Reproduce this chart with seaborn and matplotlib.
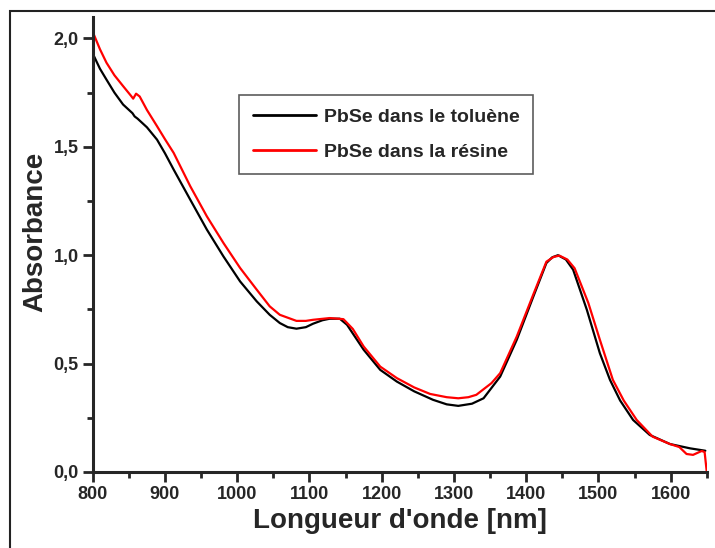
import matplotlib
matplotlib.use("Agg")
import matplotlib.pyplot as plt
from matplotlib.ticker import MultipleLocator, FuncFormatter
from matplotlib.patches import Rectangle
import pandas as pd
import seaborn as sns

# Absorption spectra of PbSe quantum dots
toluene_nm = [800, 810, 819, 830, 842, 855, 858, 862, 875, 889, 900, 912, 935,
              958, 981, 1004, 1027, 1045, 1059, 1070, 1082, 1095, 1105, 1118,
              1128, 1142, 1152, 1175, 1198, 1221, 1245, 1271, 1290, 1306, 1325,
              1341, 1364, 1387, 1410, 1428, 1436, 1444, 1455, 1465, 1484, 1502,
              1516, 1530, 1548, 1571, 1599, 1627, 1648]
toluene_abs = [1.93, 1.86, 1.81, 1.75, 1.695, 1.655, 1.640, 1.630, 1.59, 1.533,
               1.47, 1.395, 1.256, 1.118, 0.994, 0.879, 0.787, 0.725, 0.687,
               0.668, 0.661, 0.668, 0.684, 0.700, 0.707, 0.707, 0.679, 0.564,
               0.471, 0.417, 0.372, 0.333, 0.312, 0.305, 0.315, 0.340, 0.44,
               0.61, 0.81, 0.964, 0.99, 1.0, 0.98, 0.933, 0.748, 0.548, 0.425,
               0.33, 0.24, 0.171, 0.129, 0.109, 0.098]

resine_nm = [800, 810, 819, 830, 842, 853, 856, 860, 865, 875, 889, 900, 912,
             935, 958, 981, 1004, 1027, 1045, 1059, 1082, 1095, 1105, 1128,
             1147, 1160, 1175, 1198, 1221, 1245, 1267, 1290, 1306, 1320, 1331,
             1352, 1364, 1387, 1410, 1428, 1438, 1446, 1457, 1467, 1486, 1502,
             1520, 1535, 1553, 1575, 1599, 1612, 1622, 1631, 1643, 1647, 1650]
resine_abs = [2.03, 1.95, 1.888, 1.83, 1.78, 1.735, 1.722, 1.745, 1.732, 1.67,
              1.595, 1.535, 1.472, 1.318, 1.179, 1.056, 0.941, 0.841, 0.764,
              0.725, 0.697, 0.697, 0.702, 0.710, 0.705, 0.66, 0.579, 0.486,
              0.433, 0.39, 0.360, 0.345, 0.340, 0.345, 0.356, 0.41, 0.456,
              0.625, 0.82, 0.97, 0.992, 0.998, 0.98, 0.94, 0.78, 0.61, 0.425,
              0.33, 0.24, 0.163, 0.129, 0.115, 0.083, 0.079, 0.097, 0.092, 0.0]

labels = ["PbSe dans le toluène", "PbSe dans la résine"]
colors = ["#000000", "#ff0000"]

x_ticks = [800, 900, 1000, 1100, 1200, 1300, 1400, 1500, 1600]
y_ticks = [0.0, 0.5, 1.0, 1.5, 2.0]

sns.set_style("ticks")
plt.rcParams["font.family"] = ["Liberation Sans", "DejaVu Sans"]
plt.rcParams["font.weight"] = "bold"

df = pd.concat([
    pd.DataFrame({"nm": toluene_nm, "abs": toluene_abs, "serie": labels[0]}),
    pd.DataFrame({"nm": resine_nm, "abs": resine_abs, "serie": labels[1]}),
], ignore_index=True)

fig = plt.figure(figsize=(7.15, 5.48), dpi=100)
ax = fig.add_axes([0.1297, 0.1387, 0.8588, 0.8308])

sns.lineplot(data=df, x="nm", y="abs", hue="serie", hue_order=labels,
             palette=colors, sort=False, estimator=None, linewidth=1.6, ax=ax)

ax.set_xlim(800, 1650)
ax.set_ylim(0, 2.1)
ax.set_xticks(x_ticks)
ax.set_yticks(y_ticks)
ax.xaxis.set_minor_locator(MultipleLocator(50))
ax.yaxis.set_minor_locator(MultipleLocator(0.25))
ax.yaxis.set_major_formatter(FuncFormatter(lambda v, p: f"{v:.1f}".replace(".", ",")))

for side in ("top", "right"):
    ax.spines[side].set_visible(False)
for side in ("left", "bottom"):
    ax.spines[side].set_linewidth(2.2)
ax.tick_params(which="major", direction="out", length=7, width=2.0,
               labelsize=13, pad=3)
ax.tick_params(which="minor", direction="out", length=4, width=2.0)
for lab in ax.get_xticklabels() + ax.get_yticklabels():
    lab.set_fontweight("bold")

ax.set_xlabel("Longueur d'onde [nm]", fontsize=20, fontweight="bold")
ax.set_ylabel("Absorbance", fontsize=20, fontweight="bold")
ax.xaxis.set_label_coords(0.5, -0.108)
ax.yaxis.set_label_coords(-0.094, 0.527)
ax.xaxis.label.set_va("center")
ax.yaxis.label.set_va("center")

leg = ax.legend(loc="upper left", bbox_to_anchor=(239 / 715, 1 - 95 / 548),
                bbox_transform=fig.transFigure, fontsize=14, frameon=True,
                fancybox=False, shadow=False, handlelength=3.25,
                handletextpad=0.4, labelspacing=0.87, borderpad=0.7,
                borderaxespad=0)
leg.get_frame().set_edgecolor("#333333")
leg.get_frame().set_linewidth(1.2)
for t in leg.get_texts():
    t.set_fontweight("bold")
for line in leg.get_lines():
    line.set_linewidth(2.0)

# page frame around the graph
fig.add_artist(Rectangle((10 / 715, -0.1), 1.2, 1.1 - 11 / 548,
                         transform=fig.transFigure, fill=False,
                         edgecolor="#222222", linewidth=1.5, clip_on=False))

fig.savefig("out.png", dpi=100)
